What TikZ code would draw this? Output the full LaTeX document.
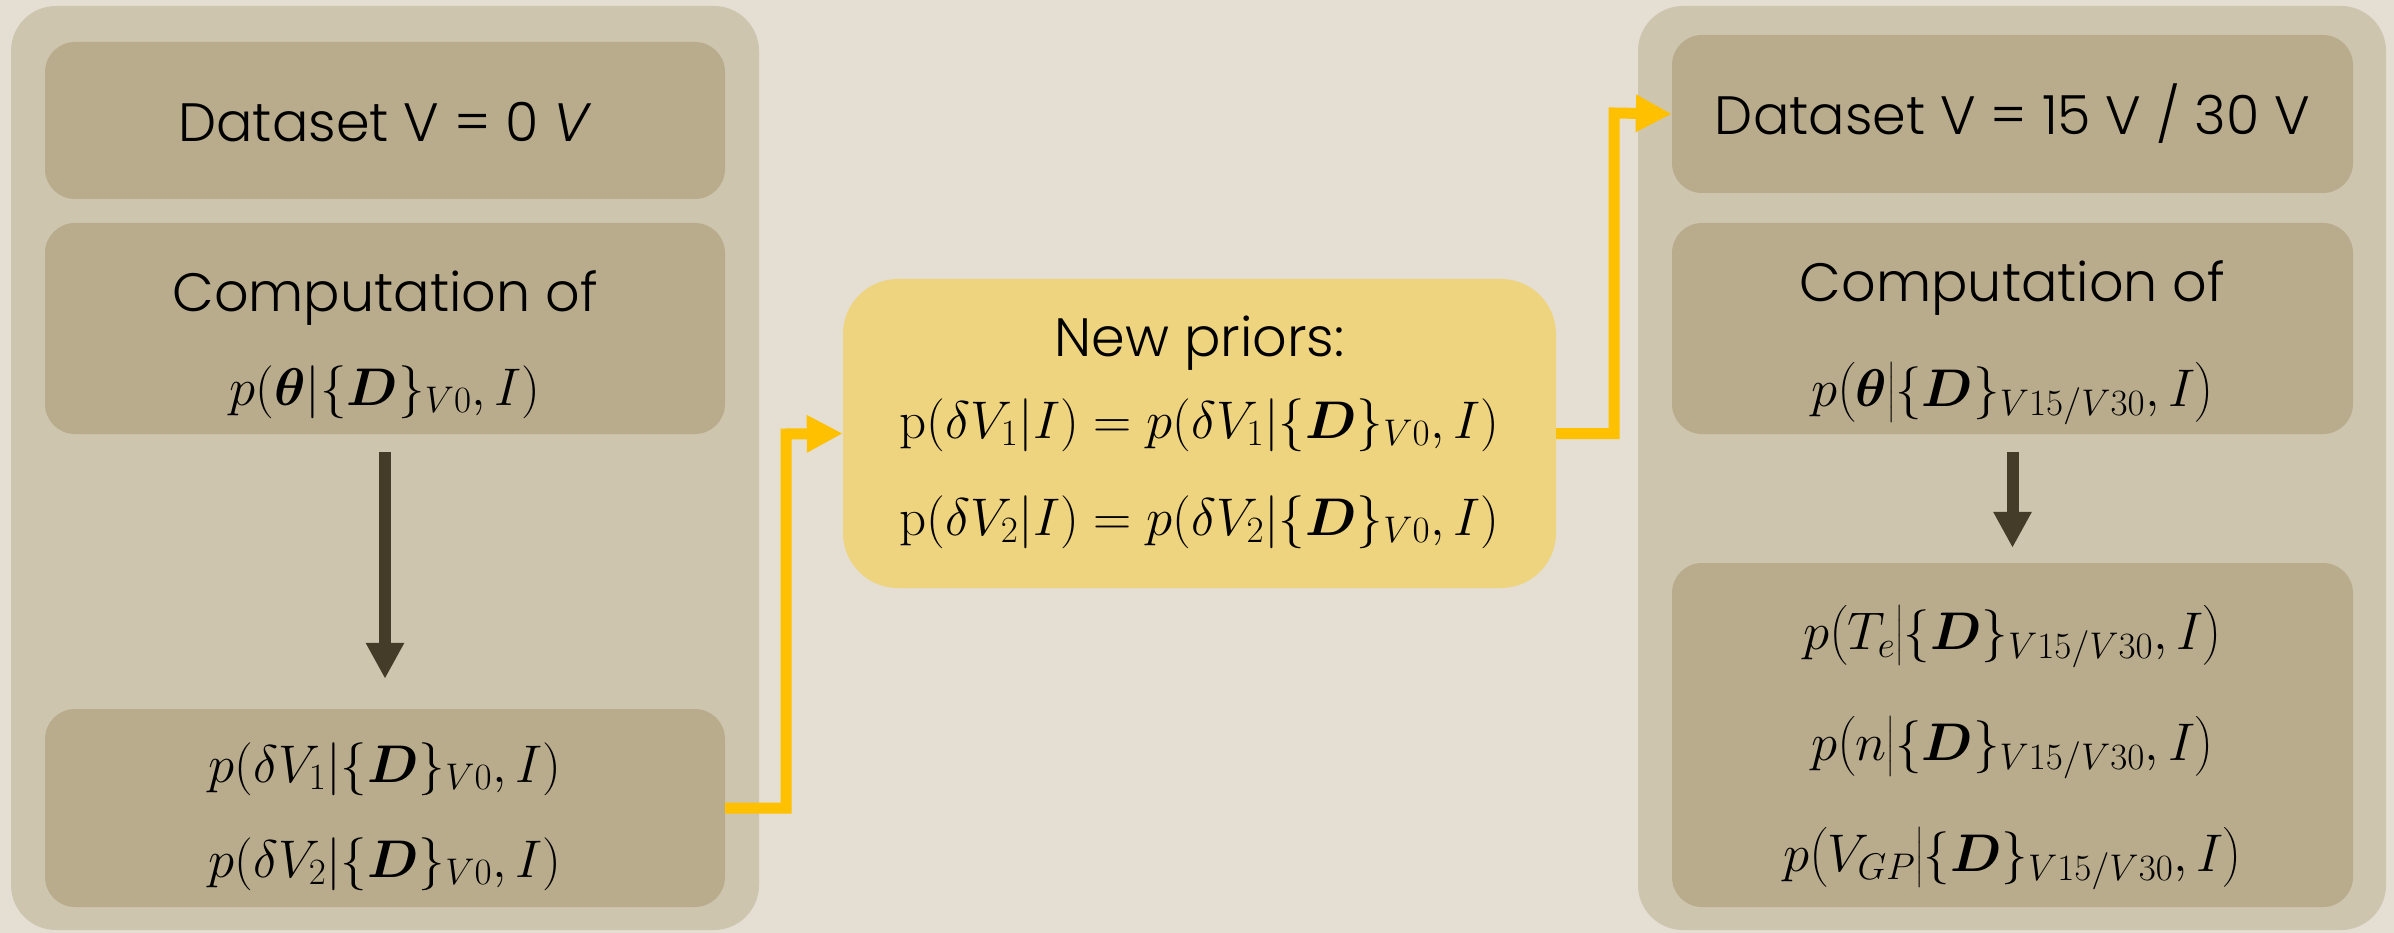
\RequirePackage{fix-cm}
\documentclass[tikz,border=0pt]{standalone}
\usepackage{amsmath}
\usepackage{bm}
\usepackage[no-math]{fontspec}
\setmainfont{Poppins Light}[ItalicFont={Poppins Light Italic}]
\usetikzlibrary{arrows.meta}

\definecolor{bgc}{HTML}{E4DED3}
\definecolor{panelc}{HTML}{CEC5AF}
\definecolor{cardc}{HTML}{B9AC8C}
\definecolor{priorc}{HTML}{EED47F}
\definecolor{linkc}{HTML}{FFC000}
\definecolor{flowc}{HTML}{443B29}

\newcommand{\Dset}{\{\bm{D}\}}

\begin{document}
\begin{tikzpicture}[x=1pt,y=-1pt,
  panel/.style={fill=panelc, rounded corners=45pt, minimum width=748pt,
    minimum height=924pt, inner sep=0pt},
  card/.style={fill=cardc, rounded corners=30pt, minimum width=680pt, inner sep=0pt},
  priorbox/.style={fill=priorc, rounded corners=55pt, minimum width=713pt,
    minimum height=309pt, inner sep=0pt},
  txt/.style={font=\fontsize{54}{64}\selectfont, inner sep=0pt},
  mth/.style={font=\fontsize{53}{63}\selectfont, inner sep=0pt},
  flow/.style={draw=flowc, line width=12pt, -{Triangle[width=36pt,length=36pt]}},
  link/.style={draw=linkc, line width=11pt, -{Triangle[width=35pt,length=36pt]}}
]
\fill[bgc] (0,0) rectangle (2394,933);
\useasboundingbox (0,0) rectangle (2394,933);

% left column: V = 0 dataset
\node[panel] (lpanel) at (385,468) {};
\node[card, minimum height=157pt] (lb1) at (385,120.5) {};
\node[card, minimum height=211pt] (lb2) at (385,328.5) {};
\node[card, minimum height=198pt] (lb3) at (385,808) {};
\node[txt, anchor=base] (lt1) at (385,142) {Dataset V = 0 \textit{V}};
\node[txt, anchor=base] (lt2) at (385,312) {Computation of};
\node[mth, anchor=base] (lt3) at (385,405) {$p(\bm{\theta}|\Dset_{V0},I)$};
\node[mth, anchor=base] (lt4) at (385,782) {$p(\delta V_1|\Dset_{V0},I)$};
\node[mth, anchor=base] (lt5) at (385,877) {$p(\delta V_2|\Dset_{V0},I)$};

% middle: new priors
\node[priorbox] (prior) at (1199.5,433.5) {};
\node[txt, anchor=base] (pt1) at (1199.5,356) {New priors:};
\node[mth, anchor=base] (pt2) at (1199.5,438)
  {$\mathrm{p}(\delta V_1|I) = p(\delta V_1|\Dset_{V0},I)$};
\node[mth, anchor=base] (pt3) at (1199.5,535)
  {$\mathrm{p}(\delta V_2|I) = p(\delta V_2|\Dset_{V0},I)$};

% right column: V = 15 / 30 datasets
\node[panel] (rpanel) at (2012,468) {};
\node[card, minimum width=681pt, minimum height=158pt] (rb1) at (2012.5,114) {};
\node[card, minimum width=681pt, minimum height=211pt] (rb2) at (2012.5,328.5) {};
\node[card, minimum width=681pt, minimum height=344pt] (rb3) at (2012.5,735) {};
\node[txt, anchor=base] (rt1) at (2012.5,135) {Dataset V = 15 V / 30 V};
\node[txt, anchor=base] (rt2) at (2012.5,302) {Computation of};
\node[mth] (rt3) at (2012.5,393) {$p\bigl(\bm{\theta}\big|\Dset_{V15/V30},I\bigr)$};
\node[mth] (rt4) at (2012.5,636) {$p\bigl(T_e\big|\Dset_{V15/V30},I\bigr)$};
\node[mth] (rt5) at (2012.5,747) {$p\bigl(n\big|\Dset_{V15/V30},I\bigr)$};
\node[mth] (rt6) at (2012.5,858) {$p\bigl(V_{GP}\big|\Dset_{V15/V30},I\bigr)$};

% flow inside each column
\draw[flow] ([yshift=-18pt]lb2.south) -- ([yshift=30pt]lb3.north);
\draw[flow] ([yshift=-18pt]rb2.south) -- ([yshift=15pt]rb3.north);

% links between columns
\coordinate (k1) at (786,434);
\coordinate (k2) at (1614,113);
\draw[link] (lb3.east) -| (k1) -- (prior.west);
\draw[link] (prior.east) -| (k2) -- (rb1.west);
\end{tikzpicture}
\end{document}
